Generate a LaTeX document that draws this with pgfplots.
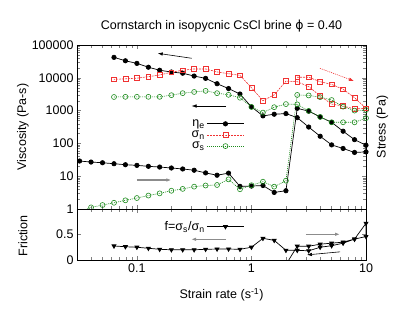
\documentclass[border=0pt]{standalone}
\usepackage{fontspec}
\setmainfont{Liberation Sans}
\newfontfamily\dejavu{DejaVu Sans}
\usepackage{pgfplots}
\pgfplotsset{compat=1.18}
\usetikzlibrary{arrows.meta}
\definecolor{gpred}{RGB}{240,50,50}
\definecolor{gpgreen}{RGB}{30,140,30}
\definecolor{arrgray}{RGB}{140,140,140}
\newcommand\fs{\fontsize{12.5}{14}\selectfont}
\tikzset{arr/.style={arrows={-Latex[length=5pt,width=3.5pt]}}}

\begin{document}
\begin{tikzpicture}[x=1pt,y=1pt]
\path[use as bounding box] (0,0) rectangle (406,320);

% upper panel: viscosity and stresses
\begin{axis}[scale only axis, anchor=south west, at={(77pt,111pt)},
  width=289pt, height=164pt,
  xmode=log, ymode=log, xmin=0.03, xmax=10, ymin=1, ymax=100000,
  axis line style={line width=0.8pt},
  tick label style={font=\fs},
  /pgf/number format/fixed, /pgf/number format/1000 sep={},
  /pgf/number format/assume math mode=true,
  log ticks with fixed point, xticklabels={},
  legend style={at={(0.59,0.57)}, anchor=north east, draw=none, fill=none,
    font=\fs, row sep=-1pt},
  legend cell align=right, legend plot pos=right,
  legend image code/.code={\draw[mark repeat=2,mark phase=2]
    plot coordinates {(0cm,0cm) (0.65cm,0cm) (1.3cm,0cm)};}]
\addplot[black, line width=0.7pt, mark=*, mark size=2.2pt] coordinates {
 (0.0316,29)(0.0398,27)(0.0501,25.7)(0.0631,24)(0.0794,22.4)(0.1,21.4)
 (0.126,20)(0.158,19)(0.2,17.8)(0.251,16.6)(0.316,15.2)(0.398,12.6)
 (0.501,10.7)(0.631,12.4)(0.794,4.9)(1,5.0)(1.26,5.2)(1.58,3.2)(2.0,3.6)
 (2.51,1175)(3.16,960)(3.98,640)(5.01,440)(6.31,235)(7.94,130)(10,88)
 (10,55)(7.94,53)(6.31,70)(5.01,90)(3.98,165)(3.16,315)(2.51,610)
 (2.0,810)(1.58,775)(1.26,690)(1,1300)(0.794,3200)(0.631,4700)(0.501,6600)
 (0.398,9600)(0.316,11300)(0.251,13800)(0.2,15000)(0.158,17000)
 (0.126,21000)(0.1,27500)(0.0794,33000)(0.0631,42000)};
\addlegendentry{η\textsubscript{e}}
\addplot[color=gpred, line width=0.6pt, dash pattern=on 2pt off 1pt, mark=square,
  mark size=2.4pt, mark options={solid}] coordinates {
 (2.51,10400)(3.16,10400)(3.98,7600)(5.01,6300)(6.31,4470)(7.94,2470)(10,1170)
 (7.94,1120)(6.31,1380)(5.01,1580)(3.98,2800)(3.16,5400)(2.51,7600)
 (2.0,7900)(1.58,3030)(1.26,2000)(1,5000)(0.794,11900)(0.631,13300)
 (0.501,15100)(0.398,18600)(0.316,18600)(0.251,17000)(0.2,14800)
 (0.158,12200)(0.126,10800)(0.1,9750)(0.0794,9300)(0.0631,8980)};
\addlegendentry{σ\textsubscript{n}}
\addplot[color=gpgreen, line width=0.6pt, dash pattern=on 1pt off 1pt, mark=o,
  mark size=2.5pt, mark options={solid}] coordinates {
 (0.0316,0.8)(0.0398,1.12)(0.0501,1.32)(0.0631,1.55)(0.0794,1.84)(0.1,2.16)
 (0.126,2.57)(0.158,3.0)(0.2,3.6)(0.251,4.1)(0.316,4.8)(0.398,5.2)
 (0.501,5.4)(0.631,8.0)(0.794,4.0)(1,5.3)(1.26,6.8)(1.58,4.8)(2.0,7.3)
 (2.51,3000)(3.16,2900)(3.98,2570)(5.01,2100)(6.31,1320)(7.94,1000)(10,1040)
 (10,590)(7.94,440)(6.31,440)(5.01,440)(3.98,640)(3.16,980)(2.51,1550)
 (2.0,1580)(1.58,1270)(1.26,870)(1,1290)(0.794,2470)(0.631,3030)
 (0.501,3400)(0.398,4000)(0.316,3700)(0.251,3400)(0.2,2950)(0.158,2630)
 (0.126,2630)(0.1,2630)(0.0794,2630)(0.0631,2600)};
\addlegendentry{σ\textsubscript{s}}
\draw[color=black, line width=0.6pt, arr] (axis cs:0.30,39400) -- (axis cs:0.152,55800);
\draw[color=black, line width=0.6pt, arr] (axis cs:0.60,1380) -- (axis cs:0.30,1380);
\draw[color=gpred, line width=0.6pt, dash pattern=on 1pt off 1pt, arr] (axis cs:3.96,19500) -- (axis cs:7.85,7990);
\draw[color=arrgray, line width=1.3pt, arr] (axis cs:0.1,7.66) -- (axis cs:0.2,7.66);
\end{axis}

% lower panel: friction
\begin{axis}[scale only axis, anchor=south west, at={(77pt,60pt)},
  width=289pt, height=51pt,
  xmode=log, xmin=0.03, xmax=10, ymin=0, ymax=1,
  axis line style={line width=0.8pt},
  tick label style={font=\fs},
  /pgf/number format/fixed, /pgf/number format/1000 sep={},
  /pgf/number format/assume math mode=true,
  log ticks with fixed point,
  ytick={0,0.5,1}, yticklabels={0,0.5,{}},
  legend style={at={(0.59,0.84)}, anchor=north east, draw=none, fill=none,
    font=\fs},
  legend cell align=right, legend plot pos=right,
  legend image code/.code={\draw[mark repeat=2,mark phase=2]
    plot coordinates {(0cm,0cm) (0.65cm,0cm) (1.3cm,0cm)};}]
\addplot[black, line width=0.7pt, mark=triangle*, mark size=2.3pt,
  mark options={rotate=180}] coordinates {
 (2.0,-0.09)(2.51,0.27)(3.16,0.27)(3.98,0.31)(5.01,0.33)(6.31,0.35)
 (7.94,0.41)(10,0.72)(10,0.46)(7.94,0.41)(6.31,0.33)(5.01,0.28)(3.98,0.25)
 (3.16,0.18)(2.51,0.19)(2.0,0.19)(1.58,0.385)(1.26,0.425)(1,0.25)
 (0.794,0.21)(0.631,0.215)(0.501,0.215)(0.398,0.21)(0.316,0.20)
 (0.251,0.20)(0.2,0.20)(0.158,0.21)(0.126,0.23)(0.1,0.25)(0.0794,0.26)
 (0.0631,0.275)};
\addlegendentry{f=σ\textsubscript{s}/σ\textsubscript{n}}
\draw[color=arrgray, line width=1.3pt, arr] (axis cs:0.60,0.406) -- (axis cs:0.297,0.406);
\draw[color=arrgray, line width=1.3pt, arr] (axis cs:2.99,0.504) -- (axis cs:5.93,0.504);
\draw[color=black, line width=0.6pt, arr] (axis cs:5.93,0.16) -- (axis cs:3.05,0.10);
\end{axis}

\node[font=\fs] at (221.5,294) {Cornstarch in isopycnic CsCl brine {\dejavu ϕ} = 0.40};
\node[font=\fs] at (221.5,25) {Strain rate (s\textsuperscript{-1})};
\node[font=\fs, rotate=90] at (23,193) {Viscosity (Pa-s)};
\node[font=\fs, rotate=90] at (382.5,193) {Stress (Pa)};
\node[font=\fs, rotate=90] at (23,84) {Friction};
\end{tikzpicture}
\end{document}
